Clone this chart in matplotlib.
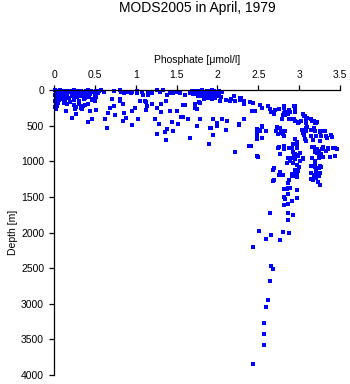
import matplotlib
matplotlib.use("Agg")
import matplotlib.pyplot as plt

plt.rcParams['font.family'] = ['Liberation Sans', 'DejaVu Sans']

# phosphate [umol/l] and depth [m] of each sample
phos = [
    # near-surface, low phosphate
    0.01, 0.02, 0.03, 0.05, 0.07, 0.09, 0.11, 0.13, 0.15, 0.17, 0.19,
    0.02, 0.04, 0.06, 0.08, 0.10, 0.12, 0.14, 0.16, 0.18,
    0.01, 0.03, 0.05, 0.07, 0.09, 0.12, 0.15, 0.18,
    0.02, 0.04, 0.06, 0.10, 0.14,
    0.01, 0.03, 0.05, 0.02, 0.04, 0.01, 0.02,
    0.21, 0.24, 0.27, 0.30, 0.33, 0.36, 0.39, 0.42, 0.45, 0.48, 0.51, 0.55, 0.58, 0.61,
    0.22, 0.26, 0.30, 0.35, 0.40, 0.44, 0.50, 0.54,
    0.23, 0.28, 0.33, 0.38, 0.43, 0.47, 0.52,
    0.25, 0.31, 0.37, 0.46, 0.50,
    0.12, 0.16, 0.20, 0.24, 0.30, 0.35, 0.42, 0.27, 0.33, 0.38,
    0.15, 0.22, 0.27, 0.41, 0.46, 0.44, 0.34, 0.26, 0.52, 0.62,
    0.65, 0.66, 0.69, 0.71, 0.75, 0.73, 0.81, 0.81, 0.85, 0.86,
    0.88, 0.84, 0.95, 0.95, 0.99, 1.03, 1.05, 1.11, 1.13, 1.14,
    0.74, 0.82, 0.86, 0.90, 0.94, 1.01, 1.08, 1.15,
    0.81, 0.87, 0.95, 1.01, 1.09, 1.15, 1.20, 1.26, 1.30, 1.34,
    1.38, 1.42, 1.46, 1.50, 1.54, 1.60, 1.66, 1.73, 1.77,
    # 1.1 - 2.4
    1.13, 1.20, 1.26, 1.31, 1.31, 1.37, 1.42, 1.50, 1.13, 1.23,
    1.28, 1.26, 1.37, 1.38, 1.44, 1.46, 1.52, 1.55, 1.58, 1.64,
    1.60, 1.66, 1.75, 1.73, 1.79, 1.92, 1.94, 1.95, 1.99, 1.90,
    2.06, 2.11, 2.12, 2.21, 2.26, 2.32, 1.77, 1.75, 2.11, 2.15,
    2.22, 2.28, 2.32, 2.20, 1.36, 1.46, 2.39,
    1.69, 1.72, 1.75, 1.78, 1.81, 1.84, 1.87, 1.90, 1.93, 1.96, 1.99, 2.02, 2.05,
    1.70, 1.74, 1.78, 1.82, 1.86, 1.90, 1.94, 1.98, 2.02,
    1.76, 1.80, 1.85, 1.90, 1.95, 2.00, 2.04,
    1.83, 1.88, 1.93, 1.97,
    1.58, 1.73, 1.79, 2.03, 2.17, 2.28, 1.56, 1.91, 1.99, 2.26,
    # deeper, higher phosphate
    2.40, 2.49, 2.48, 2.52, 2.54, 2.48, 2.54, 2.69, 2.69, 2.77,
    2.73, 2.77, 2.79, 2.81, 2.74, 2.64, 2.65, 2.69, 2.81, 2.82,
    2.86, 2.87, 2.95, 2.95, 2.75, 2.77, 2.81, 2.86, 2.90, 2.94,
    2.93, 2.97, 3.01, 2.97, 2.95, 2.99, 2.93, 2.95, 2.99, 2.97,
    3.00, 2.80, 2.87, 2.81, 2.85, 2.97, 2.94, 3.00, 2.98, 3.02,
    3.09, 3.10, 3.06, 3.10, 3.16, 3.20, 3.18, 3.22, 3.26, 3.32,
    3.34, 3.40, 3.16, 3.20, 3.24, 3.29, 3.33, 3.22, 3.24, 3.35,
    3.44, 3.16, 3.20, 3.24, 3.29, 3.19, 3.24, 3.14, 3.18, 3.20,
    3.23, 3.08, 3.06, 3.09,
    2.29, 2.33, 2.40, 2.44, 2.42, 2.46, 2.52, 2.55, 2.62, 2.64,
    2.68, 2.71, 2.75, 2.81, 2.83, 2.87, 2.89, 2.94, 2.95, 2.80,
    2.83, 2.79, 2.88, 2.93, 2.95, 3.05, 3.07, 3.08, 3.15, 3.18,
    3.21, 2.54, 2.49, 2.52, 2.59, 2.49, 2.41, 2.50, 2.72, 2.78,
    2.83, 2.80, 2.74, 2.82, 2.81, 2.87, 2.91, 2.93, 2.97, 2.97,
    3.03, 3.05, 3.09, 3.15, 3.19, 3.25, 3.31, 3.15, 3.21, 3.27,
    3.33, 3.39, 3.07, 3.25, 3.17, 3.18, 3.22, 3.28, 3.35, 3.41,
    3.46, 3.20, 3.27, 3.25, 2.95, 2.89, 2.95, 3.01, 3.05, 2.85,
    3.05, 3.15, 3.19, 3.25, 3.27, 3.21, 3.23, 3.24, 3.19, 2.68,
    2.75, 2.91, 2.96, 2.95, 3.38, 3.44,
    2.77, 2.91, 2.95, 2.97, 2.97, 3.15, 3.17, 3.21, 3.25, 3.26,
    2.68, 2.86, 2.86, 2.89, 2.81, 2.83, 2.86, 2.91, 2.97, 2.86,
    2.81, 2.64, 2.86, 2.93, 2.86, 2.51, 2.66, 2.80, 2.87, 2.59,
    2.77, 2.43,
    2.66, 2.68, 2.64, 2.62, 2.59, 2.57, 2.57, 2.57, 2.44,
]

depth = [
    5, 10, 8, 15, 5, 12, 20, 8, 15, 10, 25,
    40, 35, 50, 45, 30, 55, 40, 60, 35,
    70, 80, 90, 75, 85, 100, 95, 110,
    120, 130, 140, 125, 150,
    160, 170, 180, 200, 220, 240, 260,
    10, 5, 20, 15, 8, 25, 10, 5, 15, 30, 10, 20, 5, 25,
    50, 60, 45, 55, 70, 50, 65, 40,
    90, 100, 85, 110, 95, 120, 100,
    140, 150, 130, 145, 160,
    180, 200, 170, 210, 190, 230, 200, 240, 250, 215,
    295, 390, 335, 445, 410, 295, 270, 262, 280, 400,
    540, 320, 250, 130, 355, 225, 120, 150, 195, 320,
    390, 435, 495, 295, 250, 410, 155, 155, 280, 230,
    20, 30, 40, 25, 45, 20, 35, 30,
    0, 25, 25, 45, 70, 70, 45, 0, 25, 0,
    70, 45, 45, 25, 45, 70, 45, 25, 70,
    165, 195, 250, 200, 310, 155, 295, 295, 280, 400,
    480, 620, 700, 545, 450, 575, 480, 375, 385, 410,
    215, 680, 505, 250, 400, 535, 635, 400, 505, 755,
    410, 560, 435, 870, 480, 400, 170, 260, 140, 155,
    150, 110, 200, 90, 590, 580, 780,
    20, 10, 30, 15, 5, 25, 10, 20, 5, 15, 30, 10, 25,
    50, 60, 45, 55, 40, 65, 50, 60, 45,
    80, 90, 75, 85, 95, 80, 100,
    120, 110, 130, 115,
    210, 200, 180, 150, 120, 140, 385, 540, 470, 490,
    785, 925, 585, 560, 515, 690, 670, 1100, 1270, 1160,
    520, 530, 610, 640, 620, 270, 315, 330, 250, 320,
    340, 305, 230, 305, 795, 900, 820, 950, 950, 930,
    870, 910, 890, 730, 685, 930, 1030, 1120, 1140, 1050,
    1080, 1190, 1270, 1390, 1390, 1400, 400, 450, 470, 440,
    470, 395, 370, 520, 440, 470, 540, 450, 590, 570,
    670, 660, 800, 830, 850, 800, 850, 880, 910, 830,
    820, 960, 990, 960, 940, 1080, 1100, 1170, 1200, 1190,
    1290, 720, 630, 540,
    110, 155, 170, 180, 300, 300, 211, 248, 225, 271,
    309, 281, 271, 225, 309, 281, 309, 225, 271, 350,
    350, 412, 412, 412, 430, 330, 370, 410, 410, 440,
    460, 505, 545, 570, 570, 650, 785, 935, 580, 580,
    580, 615, 810, 835, 780, 810, 810, 755, 790, 810,
    560, 600, 570, 560, 570, 570, 580, 645, 645, 645,
    645, 630, 690, 720, 700, 800, 830, 830, 820, 820,
    830, 870, 900, 920, 900, 990, 975, 1000, 975, 1030,
    950, 1060, 1050, 1060, 1080, 1140, 1170, 1200, 1210, 1120,
    1190, 1210, 1200, 1150, 940, 930,
    1155, 1180, 1210, 1180, 1220, 1250, 1270, 1240, 1160, 1340,
    1275, 1310, 1380, 1380, 1500, 1535, 1465, 1555, 1520, 1600,
    1620, 1730, 1730, 1755, 1825, 1975, 2035, 1990, 2000, 2095,
    2105, 2210,
    2470, 2510, 2680, 2950, 3040, 3265, 3430, 3580, 3850,
]

xticks = [0, 0.5, 1, 1.5, 2, 2.5, 3, 3.5]
xticklabels = ['0', '0.5', '1', '1.5', '2', '2.5', '3', '3.5']
yticks = [0, 500, 1000, 1500, 2000, 2500, 3000, 3500, 4000]

fig = plt.figure(figsize=(3.5, 3.84), dpi=100)
ax = fig.add_axes([54 / 350, 1 - 375 / 384, 286 / 350, 285 / 384])

ax.plot(phos, depth, linestyle='none', marker='s', ms=2.2, mew=0,
        color='#0000ff', clip_on=False)

ax.set_xlim(0, 3.5)
ax.set_ylim(4000, 0)
ax.xaxis.tick_top()
ax.xaxis.set_label_position('top')
ax.set_xticks(xticks)
ax.set_xticklabels(xticklabels)
ax.set_yticks(yticks)
ax.set_yticklabels([str(v) for v in yticks])

for s in ['right', 'bottom']:
    ax.spines[s].set_visible(False)
for s in ['top', 'left']:
    ax.spines[s].set_linewidth(0.9)
ax.tick_params(direction='out', length=3.6, width=0.9, pad=3.5, labelsize=7.5)

ax.set_xlabel('Phosphate [\u03bcmol/l]', fontsize=7.5, labelpad=5)
ax.set_ylabel('Depth [m]', fontsize=7.5, labelpad=2)

fig.suptitle('MODS2005 in April, 1979', x=197 / 350, y=1 - 8 / 384,
             va='center', fontsize=10)

fig.savefig('out.png', dpi=100)
